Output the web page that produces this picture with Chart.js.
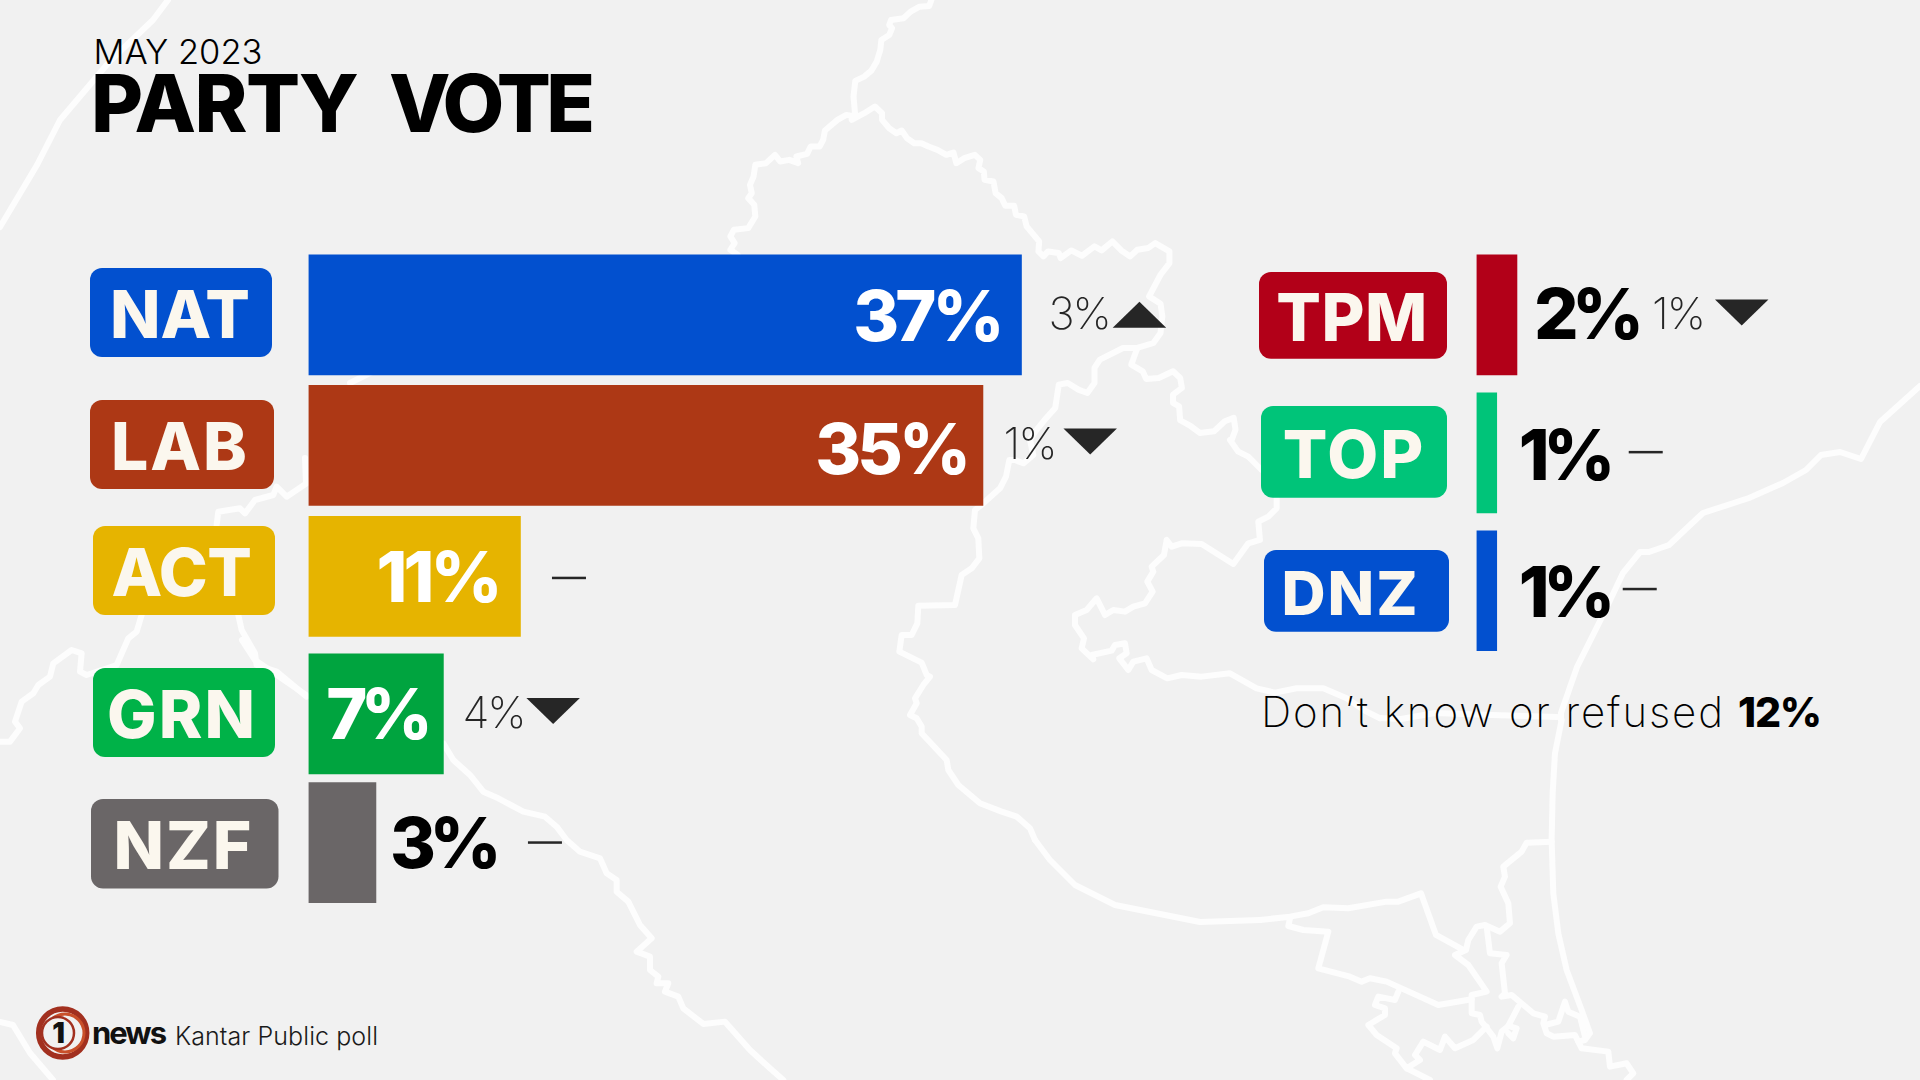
<!DOCTYPE html>
<html>
<head>
<meta charset="utf-8">
<title>Party vote</title>
<script src="https://cdn.jsdelivr.net/npm/chart.js@4"></script>
<style>
  html, body { margin: 0; padding: 0; background: #f1f1f1; }
  #stage { position: relative; width: 1920px; height: 1080px; overflow: hidden; }
  #stage svg, #stage canvas { position: absolute; left: 0; top: 0; }
  .map polyline { fill: none; stroke: #fdfdfd; stroke-width: 6; stroke-linejoin: round; stroke-linecap: round; vector-effect: non-scaling-stroke; }
  text { font-family: Inter, sans-serif; }
</style>
</head>
<body>
<div id="stage">
  <svg id="bg" width="1920" height="1080" viewBox="0 0 1920 1080">
    <g class="map">
      <polyline points="0,227 37,165 60,120 110,61 153,20 168,0"/>
      <polyline points="0,1022 13,1025 30,1053 53,1080"/>
      <polyline points="306,483 305,458"/>
      <polyline points="350,383 372,372"/>
      <polyline points="242,640 255,660 306,695"/>
      <polyline points="1920,386 1880,422 1861,459 1840,452 1821,455 1806,470 1783,483 1749,498 1703,513 1688,527 1669,545 1649,552 1640,552 1623,573 1604,613 1577,667 1561,713 1561,720"/>
      <polyline points="1035,840 1050,860 1075,885 1115,905 1150,912 1200,922 1260,920"/>
      <polyline points="1380,718 1401,719 1435,713 1492,715 1557,717"/>
      <!-- top centre crop -->
      <g transform="translate(700,0) scale(0.357,0.333)">
        <polyline points="648,0 642,18 615,20 590,35 570,55 535,60 530,75 538,85 530,105 508,120 505,150 495,185 480,212 460,230 435,243 430,290 435,350"/>
        <polyline points="435,350 410,345 385,360 350,392 345,420 335,440 310,440 300,462 270,470 275,490 250,480 225,485 210,465 185,490 155,495 150,530 140,555 145,580 135,595 152,615 155,650 135,685 95,690 85,710 97,730 85,750 105,765"/>
        <polyline points="425,360 460,340 490,320 510,340 510,360 530,385 550,400 565,392 580,415 600,430 620,430 640,440 665,450 690,465 710,458 718,490 740,475 770,465 785,480 780,505 795,515 797,540 822,545 828,580 845,595 855,618 880,618 885,645 908,650 915,680 950,725 948,755 962,770 975,755 1005,760 1010,775 1040,752 1070,768 1105,740 1125,752 1155,725 1180,752 1205,770 1225,750 1255,745 1275,730 1315,755 1315,790 1290,825 1258,890 1290,912 1295,950 1290,1000 1270,1030 1225,1045 1185,1045 1120,1080 1105,1105 1105,1150 1085,1180 1060,1170 1030,1150 1005,1155 995,1225 970,1255 940,1295 925,1320"/>
        <polyline points="1225,1045 1208,1095 1240,1115 1250,1138 1285,1135 1325,1115 1345,1135 1350,1165 1325,1185 1325,1210 1342,1220 1345,1262 1375,1280 1400,1300 1440,1295 1470,1265 1495,1255 1500,1290 1490,1320"/>
      </g>
      <!-- middle crop -->
      <g transform="translate(880,440) scale(0.3333)">
        <polyline points="450,0 460,45 430,70 405,60 388,60 378,110 360,145 310,190 285,210 280,265 295,295 298,355 275,385 245,405 235,450 225,495 115,497 112,550 95,585 65,585 58,635 125,668 140,705 150,710 130,735 105,775 110,790 90,825 110,835 125,860 125,880 200,960 205,990 235,1035 300,1090 365,1115 410,1130 450,1165 465,1200"/>
        <polyline points="1050,0 1075,35 1105,50 1145,90"/>
        <polyline points="1190,175 1190,205 1165,230 1135,245 1140,300 1105,310 1060,372 965,312 905,310 875,320 860,300 852,345 815,380 820,395 802,425 818,455 795,490 760,500 735,515 700,510 675,525 650,475 620,510 585,525 585,555 612,595 605,625 640,658 635,645 695,632 705,615 735,610 740,640 718,655 745,690 760,665 800,655 815,690 862,715 905,705 965,710 1050,700 1130,745 1185,758 1250,745 1330,745 1400,775 1460,815 1500,835"/>
      </g>
      <!-- bottom right crop -->
      <g transform="translate(1260,720) scale(0.3333)">
        <polyline points="905,0 885,100 878,220 875,360 880,520 895,640 920,750 965,870 990,940 975,960 955,965"/>
        <polyline points="875,365 800,368 785,395 730,440 735,470 722,500 745,550 750,610 720,635 675,615 650,620 625,660 618,690 585,705 625,735 680,815 635,825 635,880 660,885 665,905 700,950 712,985 725,935 745,918 770,925 760,955 745,940"/>
        <polyline points="0,600 90,590 145,580 190,562 265,565 380,545 415,545 483,520 528,645 610,690"/>
        <polyline points="90,595 85,618 130,630 205,635 175,745 270,770 305,785 330,775 380,785 535,855 635,838"/>
        <polyline points="415,815 405,840 355,830 345,855 375,865 375,885 325,915 350,945 410,985 405,1000 440,1045 480,1020 465,1005 490,965 540,990 555,950 585,985 640,960 680,920"/>
        <polyline points="440,1045 510,1080"/>
        <polyline points="680,620 690,700 740,705 725,730 735,820 725,830 755,825 820,880 855,890 850,910 860,940 880,950 945,945 965,985 1045,995 1050,1040 1100,1030 1120,1060 1100,1080"/>
        <polyline points="775,860 745,918"/>
        <polyline points="855,915 895,905 915,845 925,875 960,890 975,950"/>
      </g>
      <!-- left crop -->
      <g transform="translate(0,480) scale(0.3333)">
        <polyline points="0,785 30,785 60,745 45,725 65,665 100,640 115,615 150,590 160,550 215,510 245,520 240,575 260,585 350,555 385,475 410,455 425,405"/>
        <polyline points="650,135 655,95 720,85 735,100 765,60 820,45 830,20 860,50 920,10"/>
        <polyline points="715,405 725,450 765,520 770,555 830,575 920,650"/>
      </g>
      <!-- lower middle crop -->
      <g transform="translate(420,760) scale(0.3333)">
        <polyline points="70,-50 100,0 150,45 190,95 235,115 310,155 375,170 410,200 440,240 480,275 540,295 560,340 590,360 590,395 625,425 660,495 695,535 650,575 690,590 690,630 715,650 710,670 745,670 735,695 775,710 790,745 850,792 915,785 990,870 1050,925 1090,960"/>
      </g>
    </g>
    <text x="93.5" y="64" font-size="34.5" font-weight="300" fill="#000" textLength="169">MAY 2023</text>
    <text x="91" y="132" font-size="80" font-weight="800" fill="#000" textLength="268">PARTY</text>
    <text x="389" y="132" font-size="80" font-weight="800" fill="#000" textLength="206">VOTE</text>
    <text x="1261" y="727" font-size="42" font-weight="200" fill="#000" textLength="462">Don’t know or refused</text>
    <text x="1738" y="727" font-size="41" font-weight="800" fill="#000" textLength="84">12%</text>
    <!-- 1 news logo -->
    <circle cx="62.7" cy="1033" r="24" fill="#f1f1f1" stroke="#a2301f" stroke-width="5.5"/>
    <circle cx="65" cy="1033" r="19" fill="none" stroke="#c9502a" stroke-width="3"/>
    <circle cx="58" cy="1033" r="16" fill="#f1f1f1" stroke="#a2301f" stroke-width="2.5"/>
    <text x="58.5" y="1043" font-size="28" font-weight="900" fill="#111" text-anchor="middle">1</text>
    <text x="92" y="1044" font-size="31" font-weight="700" fill="#111" textLength="75">news</text>
    <text x="175" y="1045" font-size="25" font-weight="300" fill="#1a1a1a" textLength="203">Kantar Public poll</text>
  </svg>
  <canvas id="leftChart" width="1280" height="1080"></canvas>
  <canvas id="rightChart" width="1920" height="1080"></canvas>
</div>

<script>
// left block
const leftParties = ['NAT', 'LAB', 'ACT', 'GRN', 'NZF'];
const leftValues = [37, 35, 11, 7, 3.5];
const leftLabels = ['37%', '35%', '11%', '7%', '3%'];
const leftChange = ['3%', '1%', '', '4%', ''];
const leftDirection = ['up', 'down', 'none', 'down', 'none'];
const leftColors = ['#0250cf', '#ad3815', '#e6b400', '#00a43f', '#6a6667'];
const leftPillColors = ['#0250cf', '#ad3815', '#e6b400', '#00b248', '#6a6667'];

// right block
const rightParties = ['TPM', 'TOP', 'DNZ'];
const rightValues = [2.1, 1.05, 1.05];
const rightLabels = ['2%', '1%', '1%'];
const rightChange = ['1%', '', ''];
const rightDirection = ['down', 'none', 'none'];
const rightColors = ['#b20018', '#00c479', '#0250cf'];
const rightPillColors = ['#b20018', '#00c479', '#0250cf'];

const pxPerPoint = 19.27;
const cream = '#fbf7ee';
const dark = '#262626';

// layout of the labels round each bar
const leftLayout = {
  rowShift: [0, -1.4, -2.3, 3.3, 0],
  valueGap: [-21, -16, -22, -17, 14],
  valueDy: [25.7, 28.5, 26, 25, 25.3],
  valueColor: ['#fff', '#fff', '#fff', '#fff', '#000'],
  deltaGap: [27, 20.5, 31.5, 19, 152],
  arrowGap: [64.2, 60, 0, 64, 0],
  deltaDy: [-0.3, -4, 1.5, -3, 0],
  // x, y, w, h, text centre, text baseline, font size, letter spacing
  pills: [
    [90, 268, 182, 89, 180, 337.7, 66, 0],
    [90, 400, 184, 89, 180, 470, 66, 2],
    [93, 526, 182, 89, 181.5, 596, 66, -0.5],
    [93, 668, 182, 89, 182, 738, 66, 2],
    [91, 799, 187.5, 89.5, 183.5, 869, 66, 2]
  ]
};
const rightLayout = {
  rowShift: [0, 0, 0],
  valueGap: [17, 22, 22],
  valueDy: [24, 27.3, 26.3],
  valueColor: ['#000', '#000', '#000'],
  deltaGap: [135, 132, 126],
  arrowGap: [63, 0, 0],
  deltaDy: [-2.5, -0.7, -1.7],
  pills: [
    [1259, 272, 188, 86.7, 1352, 340.7, 66, 0.5],
    [1261, 406, 186, 91.7, 1354, 478, 66, 2],
    [1264, 550, 185, 81.7, 1350.5, 615, 61, 2]
  ]
};

const rowLabels = {
  id: 'rowLabels',
  afterDatasetsUpdate(chart, args, opts) {
    // the rows in the original are not quite evenly spaced
    chart.getDatasetMeta(0).data.forEach((bar, i) => { bar.y += opts.layout.rowShift[i]; });
  },
  beforeDatasetsDraw(chart, args, opts) {
    const c = chart.ctx;
    chart.data.labels.forEach((name, i) => {
      const [x, y, w, h, cx, base, size, spacing] = opts.layout.pills[i];
      c.fillStyle = opts.pillColors[i];
      c.beginPath();
      c.roundRect(x, y, w, h, 12);
      c.fill();
      c.fillStyle = cream;
      c.font = `800 ${size}px Inter`;
      c.letterSpacing = spacing + 'px';
      c.textAlign = 'center';
      c.textBaseline = 'alphabetic';
      c.fillText(name, cx, base);
      c.letterSpacing = '0px';
    });
  },
  afterDatasetsDraw(chart, args, opts) {
    const c = chart.ctx;
    const lay = opts.layout;
    chart.getDatasetMeta(0).data.forEach((bar, i) => {
      // value
      const gap = lay.valueGap[i];
      c.font = '800 70px Inter';
      c.letterSpacing = opts.values[i].length < 3 ? '-6.5px' : '-4px';
      c.fillStyle = lay.valueColor[i];
      c.textAlign = gap < 0 ? 'right' : 'left';
      c.textBaseline = 'alphabetic';
      c.fillText(opts.values[i], bar.x + gap, bar.y + lay.valueDy[i]);
      c.letterSpacing = '0px';

      // change since last poll
      const dx = bar.x + lay.deltaGap[i];
      const dy = bar.y + lay.deltaDy[i];
      c.fillStyle = dark;
      if (opts.direction[i] === 'none') {
        c.fillRect(dx, dy - 1.25, 34, 2.5);
        return;
      }
      c.font = '200 44px Inter';
      c.letterSpacing = '-2px';
      c.textAlign = 'left';
      c.fillText(opts.change[i], dx, bar.y + 14);
      c.letterSpacing = '0px';

      const ax = dx + lay.arrowGap[i];
      const tip = opts.direction[i] === 'up' ? -13 : 13;
      c.beginPath();
      c.moveTo(ax, dy - tip);
      c.lineTo(ax + 53.5, dy - tip);
      c.lineTo(ax + 26.75, dy + tip);
      c.closePath();
      c.fill();
    });
  }
};

function rowChart(id, parties, values, colors, labelOpts, xMax, padding) {
  return new Chart(document.getElementById(id), {
    type: 'bar',
    data: {
      labels: parties,
      datasets: [{
        data: values,
        backgroundColor: colors,
        borderWidth: 0,
        barThickness: 120
      }]
    },
    options: {
      indexAxis: 'y',
      responsive: false,
      animation: false,
      layout: { padding: padding },
      plugins: {
        legend: { display: false },
        tooltip: { enabled: false },
        rowLabels: labelOpts
      },
      scales: {
        x: { display: false, min: 0, max: xMax },
        y: { display: false }
      }
    },
    plugins: [rowLabels]
  });
}

rowChart('leftChart', leftParties, leftValues, leftColors, {
  layout: leftLayout,
  pillColors: leftPillColors,
  values: leftLabels,
  change: leftChange,
  direction: leftDirection
}, 50, { left: 308.5, right: 1280 - 308.5 - pxPerPoint * 50, top: 249, bottom: 1080 - 908.5 });

rowChart('rightChart', rightParties, rightValues, rightColors, {
  layout: rightLayout,
  pillColors: rightPillColors,
  values: rightLabels,
  change: rightChange,
  direction: rightDirection
}, 20, { left: 1476.5, right: 1920 - 1476.5 - pxPerPoint * 20, top: 246, bottom: 1080 - 659.7 });
</script>
</body>
</html>
